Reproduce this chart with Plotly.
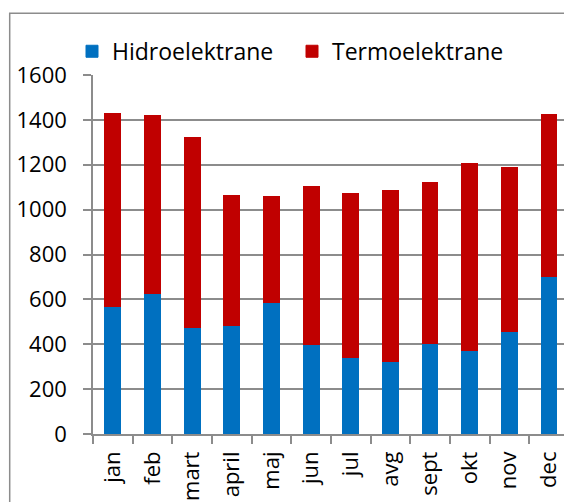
import plotly.graph_objects as go

months = ["jan", "feb", "mart", "april", "maj", "jun", "jul", "avg", "sept", "okt", "nov", "dec"]
hidro = [570, 626, 475, 484, 585, 398, 340, 323, 404, 371, 457, 700]
termo = [857, 792, 846, 581, 474, 704, 733, 763, 718, 834, 730, 723]
y_ticks = [0, 200, 400, 600, 800, 1000, 1200, 1400, 1600]

W, H = 564, 502
ml, mt, mb = 93, 74.7, 68.3
pw, ph = W - ml, H - mt - mb
cat_w = 39.65

fig = go.Figure()
fig.add_trace(go.Bar(x=months, y=hidro, name="Hidroelektrane",
                     marker=dict(color="#0070C0", line=dict(color="#0070C0", width=1))))
fig.add_trace(go.Bar(x=months, y=termo, name="Termoelektrane",
                     marker=dict(color="#C00000", line=dict(color="#C00000", width=1))))

grid = "#8c8c8c"
font = dict(family="Open Sans", size=23, color="black")
tick_font = dict(family="Open Sans", size=22, color="black")

fig.update_layout(
  barmode="stack", bargap=0.6,
  width=W, height=H,
  margin=dict(l=ml, r=0, t=mt, b=mb, autoexpand=False),
  paper_bgcolor="white", plot_bgcolor="white",
  font=font,
  legend=dict(orientation="h", traceorder="normal", x=(72 - ml) / pw, xanchor="left",
              y=(H - mb - 51) / ph, yanchor="middle",
              font=font, entrywidth=175, entrywidthmode="pixels",
              bgcolor="rgba(0,0,0,0)"),
  xaxis=dict(range=[-0.5, pw / cat_w - 0.5], tickangle=-90, tickson="boundaries",
             ticks="outside", ticklen=8, tickcolor=grid, tickwidth=1.5,
             showline=True, linecolor=grid, linewidth=1.5, showgrid=False,
             automargin=False, tickfont=tick_font, ticklabelstandoff=7),
  yaxis=dict(range=[0, 1600], tickvals=y_ticks, ticks="outside", ticklen=8,
             tickcolor=grid, tickwidth=1.5, showline=True, linecolor=grid,
             linewidth=1.5, gridcolor=grid, gridwidth=1.5, zeroline=False,
             automargin=False, tickfont=tick_font, ticklabelstandoff=12),
  shapes=[dict(type="rect", xref="paper", yref="paper",
               x0=(9.7 - ml) / pw, x1=1.5, y0=-1, y1=(H - mb - 13) / ph,
               line=dict(color=grid, width=1.5), layer="below")],
)

fig.write_html("out.html", config={"displayModeBar": False},
               post_script="document.body.style.margin='0';")
